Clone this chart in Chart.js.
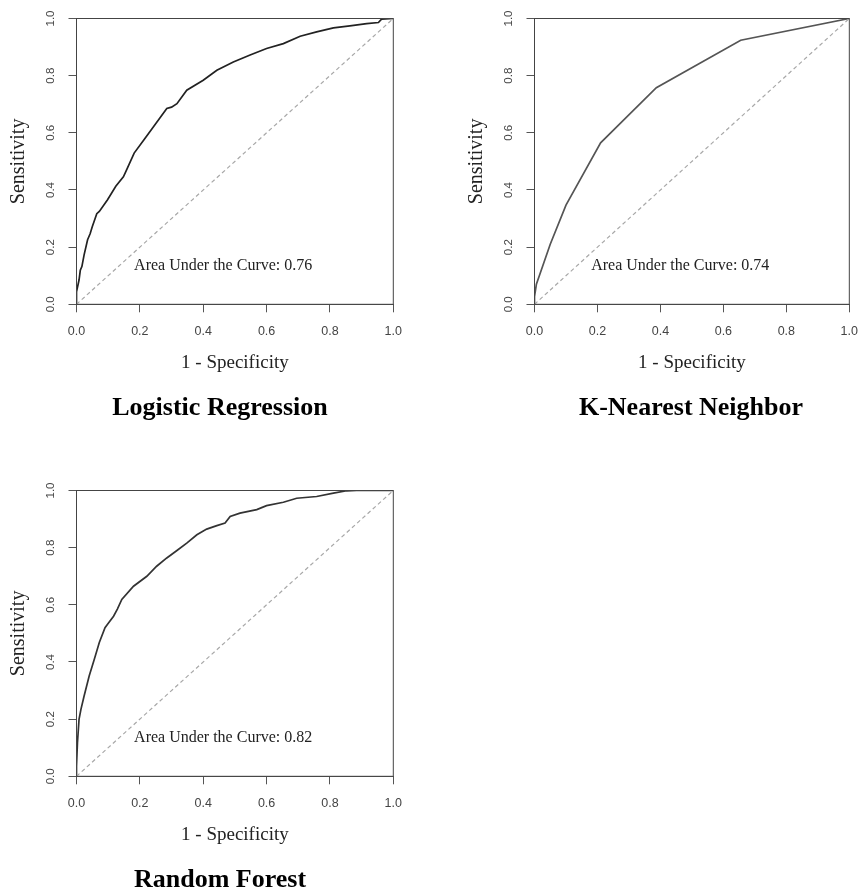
<!DOCTYPE html>
<html>
<head>
<meta charset="utf-8">
<title>ROC curves</title>
<script src="https://cdn.jsdelivr.net/npm/chart.js@4.4.1/dist/chart.umd.min.js"></script>
<style>
    html, body { margin: 0; padding: 0; background: #fff; overflow: hidden; }
    body { width: 859px; height: 892px; position: relative; }
    canvas { position: absolute; }
</style>
</head>
<body>
<canvas id="lr" width="440" height="430" style="left:0px; top:0px;"></canvas>
<canvas id="knn" width="430" height="430" style="left:440px; top:0px;"></canvas>
<canvas id="rf" width="440" height="430" style="left:0px; top:472px;"></canvas>
<script>
// values: false positive rate (1 - specificity) / sensitivity
const lrFpr = [0, 0, 0.008, 0.012, 0.017, 0.024, 0.035, 0.043, 0.05, 0.064, 0.072, 0.098, 0.124, 0.148, 0.156, 0.182, 0.213, 0.243, 0.285, 0.3, 0.317, 0.348, 0.4, 0.443, 0.495, 0.548, 0.6, 0.653, 0.706, 0.758, 0.811, 0.863, 0.916, 0.953, 0.963, 1];
const lrTpr = [0, 0.044, 0.085, 0.119, 0.132, 0.173, 0.226, 0.247, 0.272, 0.317, 0.325, 0.366, 0.413, 0.446, 0.465, 0.529, 0.576, 0.621, 0.685, 0.69, 0.702, 0.749, 0.784, 0.819, 0.848, 0.872, 0.895, 0.912, 0.938, 0.953, 0.967, 0.974, 0.982, 0.986, 0.998, 1];

const knnFpr = [0, 0, 0.006, 0.017, 0.05, 0.1, 0.21, 0.387, 0.655, 1];
const knnTpr = [0, 0.027, 0.07, 0.105, 0.21, 0.347, 0.565, 0.758, 0.924, 1];

const rfFpr = [0, 0, 0.003, 0.008, 0.014, 0.024, 0.04, 0.056, 0.072, 0.09, 0.098, 0.117, 0.129, 0.143, 0.18, 0.222, 0.253, 0.285, 0.317, 0.348, 0.38, 0.411, 0.443, 0.469, 0.485, 0.516, 0.569, 0.6, 0.653, 0.695, 0.758, 0.811, 0.853, 0.884, 1];
const rfTpr = [0, 0.035, 0.117, 0.199, 0.234, 0.281, 0.351, 0.409, 0.468, 0.52, 0.532, 0.56, 0.585, 0.619, 0.665, 0.7, 0.735, 0.764, 0.79, 0.816, 0.845, 0.865, 0.877, 0.886, 0.909, 0.921, 0.933, 0.947, 0.959, 0.973, 0.979, 0.991, 0.999, 1, 1];

const modelNames = ['Logistic Regression', 'K-Nearest Neighbor', 'Random Forest'];
const aucValues = [0.76, 0.74, 0.82];
const tickValues = [0, 0.2, 0.4, 0.6, 0.8, 1.0];
const tickLabels = ['0.0', '0.2', '0.4', '0.6', '0.8', '1.0'];
const chanceLine = [0, 1];

const serif = '"Liberation Serif", "Times New Roman", serif';
const sans = '"Liberation Sans", Arial, sans-serif';

const toPoints = (xs, ys) => {
    let pts = [];
    for (let i = 0; i < xs.length; i++) {
        pts.push({x: xs[i], y: ys[i]});
    }
    return pts;
}

// box round the plot, the AUC note and the model name under each panel
const rocExtras = {
    id: 'rocExtras',
    afterDatasetsDraw(chart, args, opts) {
        const {ctx, chartArea} = chart;
        const xs = chart.scales.x;
        const ys = chart.scales.y;
        ctx.save();
        ctx.strokeStyle = '#444';
        ctx.lineWidth = 1;
        ctx.strokeRect(chartArea.left, chartArea.top, chartArea.right - chartArea.left, chartArea.bottom - chartArea.top);

        ctx.fillStyle = '#222';
        ctx.font = '16px ' + serif;
        ctx.textAlign = 'center';
        ctx.textBaseline = 'alphabetic';
        ctx.fillText('Area Under the Curve: ' + opts.auc.toFixed(2), xs.getPixelForValue(0.463), ys.getPixelForValue(0.12));

        ctx.fillStyle = '#000';
        ctx.font = 'bold 26px ' + serif;
        ctx.fillText(opts.name, chartArea.left + opts.nameShift, chartArea.bottom + 111);
        ctx.restore();
    }
};

const axisTicks = (scale) => {
    scale.ticks = tickValues.map(v => ({value: v}));
}

const makeRoc = (id, fpr, tpr, idx, lineColor, padLeft, padRight, nameShift) => {
    const cfg = {
        type: 'scatter',
        data: {
            datasets: [
                {
                    label: 'chance',
                    data: toPoints(chanceLine, chanceLine),
                    showLine: true,
                    borderColor: '#a8a8a8',
                    borderWidth: 1.2,
                    borderDash: [4, 3],
                    pointRadius: 0
                },
                {
                    label: modelNames[idx],
                    data: toPoints(fpr, tpr),
                    showLine: true,
                    borderColor: lineColor,
                    borderWidth: 1.7,
                    pointRadius: 0,
                    tension: 0
                }
            ]
        },
        options: {
            responsive: false,
            animation: false,
            devicePixelRatio: 1,
            layout: {
                padding: {left: padLeft, right: padRight, top: 18.5, bottom: 55.7}
            },
            scales: {
                x: {
                    type: 'linear',
                    min: 0,
                    max: 1,
                    afterBuildTicks: axisTicks,
                    afterFit: (s) => { s.height = 70; },
                    grid: {drawOnChartArea: false, drawTicks: true, tickLength: 8, color: '#555'},
                    border: {display: true, color: '#555', width: 1},
                    ticks: {
                        padding: 12,
                        color: '#444',
                        font: {family: sans, size: 12.5},
                        maxRotation: 0,
                        autoSkip: false,
                        callback: (v, i) => tickLabels[i]
                    },
                    title: {
                        display: true,
                        text: '1 - Specificity',
                        color: '#222',
                        padding: {top: 0, bottom: 0},
                        font: {family: serif, size: 19}
                    }
                },
                y: {
                    type: 'linear',
                    min: 0,
                    max: 1,
                    afterBuildTicks: axisTicks,
                    afterFit: (s) => { s.width = 76.5; },
                    grid: {drawOnChartArea: false, drawTicks: true, tickLength: 8, color: '#555'},
                    border: {display: true, color: '#555', width: 1},
                    ticks: {
                        padding: 10,
                        color: '#444',
                        minRotation: 90,
                        maxRotation: 90,
                        crossAlign: 'center',
                        autoSkip: false,
                        font: {family: sans, size: 11.5},
                        callback: (v, i) => tickLabels[i]
                    },
                    title: {
                        display: true,
                        text: 'Sensitivity',
                        color: '#222',
                        padding: {top: 7, bottom: 0},
                        font: {family: serif, size: 20}
                    }
                }
            },
            plugins: {
                legend: {display: false},
                tooltip: {enabled: false},
                rocExtras: {auc: aucValues[idx], name: modelNames[idx], nameShift: nameShift}
            }
        },
        plugins: [rocExtras]
    };
    return new Chart(document.getElementById(id).getContext('2d'), cfg);
}

makeRoc('lr', lrFpr, lrTpr, 0, '#222', 0, 46.7, 143.5);
makeRoc('knn', knnFpr, knnTpr, 1, '#555', 18, 19, 156.5);
makeRoc('rf', rfFpr, rfTpr, 2, '#333', 0, 46.7, 143.5);
</script>
</body>
</html>
